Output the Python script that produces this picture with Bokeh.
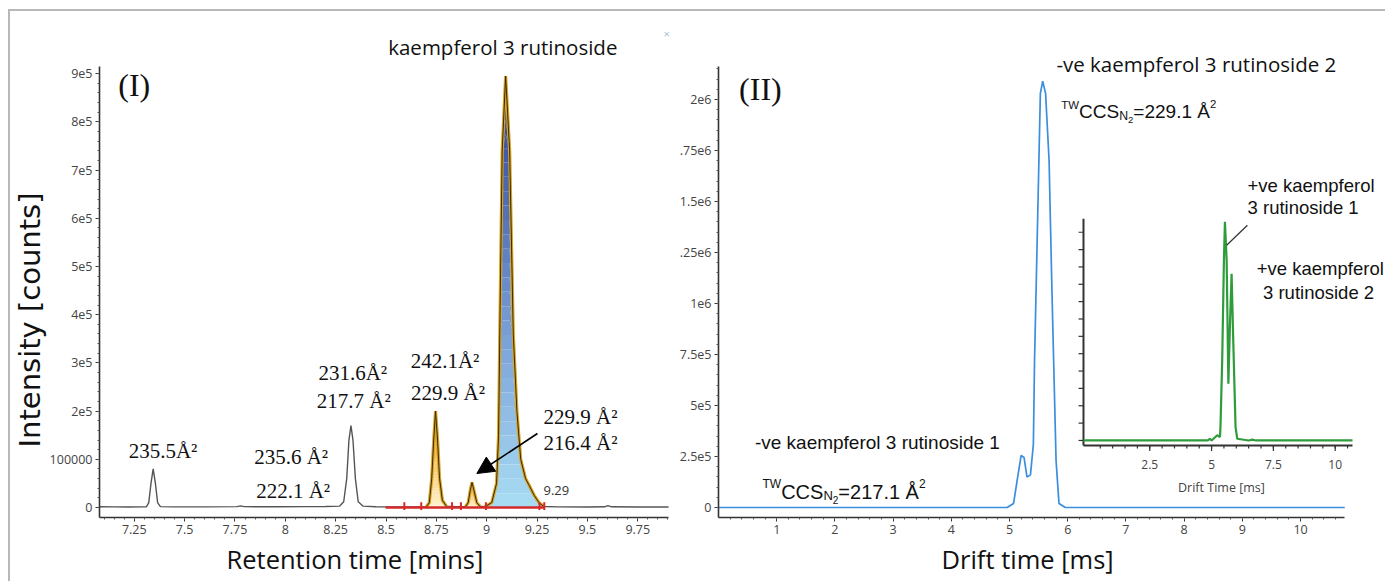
import numpy as np
from bokeh.plotting import figure
from bokeh.layouts import row
from bokeh.models import Range1d, FixedTicker, Label, Arrow, NormalHead, Title
from bokeh.core.properties import value
from bokeh.embed import file_html
from bokeh.resources import INLINE

# ---------------- data: panel I (chromatogram) ----------------
rt_time = [7.077, 7.15, 7.22, 7.29, 7.31, 7.322, 7.333, 7.344, 7.355, 7.366, 7.38, 7.45, 7.6,
           7.76, 7.778, 7.795, 7.95, 8.1, 8.2, 8.27, 8.29, 8.305, 8.316, 8.326, 8.336, 8.348,
           8.362, 8.385, 8.45, 8.6, 8.70, 8.715, 8.727, 8.737, 8.746, 8.756, 8.766, 8.78, 8.80,
           8.85, 8.895, 8.908, 8.918, 8.927, 8.937, 8.951, 8.967, 8.99, 9.025, 9.049, 9.059,
           9.065, 9.077, 9.094, 9.114, 9.132, 9.15, 9.169, 9.193, 9.212, 9.236, 9.26, 9.284,
           9.35, 9.5, 9.585, 9.602, 9.62, 9.75, 9.903]
rt_intensity = [1500, 1300, 1200, 1300, 1500, 10000, 50000, 80000, 50000, 10000, 1800, 1300, 1400,
                1800, 3500, 1800, 1600, 1800, 2200, 3000, 12000, 60000, 140000, 170000, 140000, 60000,
                12000, 3000, 1500, 1200, 1500, 10000, 60000, 140000, 200000, 140000, 60000, 15000, 3000,
                1500, 2000, 10000, 35000, 52000, 35000, 10000, 2500, 1500, 10000, 50000, 150000,
                360000, 740000, 895000, 740000, 360000, 200000, 100000, 60000, 45000, 25000, 10000, 2000,
                1300, 1200, 1500, 4000, 1500, 1200, 1200]
fill_start = [8.70, 8.895, 8.99]
fill_end = [8.80, 8.967, 9.284]
fill_kind = ["orange", "orange", "blue"]
integration_start, integration_end = 8.498, 9.286
integration_marks = [8.591, 8.675, 8.828, 8.872, 8.996, 9.262, 9.286]
left_xticks = [7.25, 7.5, 7.75, 8, 8.25, 8.5, 8.75, 9, 9.25, 9.5, 9.75]
left_xtick_labels = ["7.25", "7.5", "7.75", "8", "8.25", "8.5", "8.75", "9", "9.25", "9.5", "9.75"]
left_yticks = [0, 1e5, 2e5, 3e5, 4e5, 5e5, 6e5, 7e5, 8e5, 9e5]
left_ytick_labels = ["0", "100000", "2e5", "3e5", "4e5", "5e5", "6e5", "7e5", "8e5", "9e5"]
ccs_text = ["235.5Å²", "235.6 Å²", "222.1 Å²", "231.6Å²", "217.7 Å²", "242.1Å²", "229.9 Å²",
            "229.9 Å²", "216.4 Å²"]
ccs_x = [7.393, 8.029, 8.039, 8.335, 8.34, 8.793, 8.808, 9.282, 9.282]
ccs_y = [1.18e5, 1.04e5, 0.35e5, 2.8e5, 2.22e5, 3.05e5, 2.37e5, 1.87e5, 1.33e5]
ccs_align = ["center", "center", "center", "center", "center", "center", "center", "left", "left"]

# ---------------- data: panel II (drift time) ----------------
dt_time = [0.0, 4.96, 5.07, 5.13, 5.20, 5.25, 5.30, 5.36, 5.41, 5.43, 5.48, 5.53, 5.57, 5.62,
           5.68, 5.73, 5.80, 5.85, 5.96, 10.76]
dt_intensity = [0, 0, 0.02e6, 0.13e6, 0.255e6, 0.245e6, 0.15e6, 0.16e6, 0.31e6, 0.72e6, 1.37e6,
                2.03e6, 2.09e6, 2.03e6, 1.70e6, 1.05e6, 0.23e6, 0.02e6, 0, 0]
right_xticks = [1, 2, 3, 4, 5, 6, 7, 8, 9, 10]
right_xtick_labels = ["1", "2", "3", "4", "5", "6", "7", "8", "9", "10"]
right_yticks = [0, 2.5e5, 5e5, 7.5e5, 1e6, 1.25e6, 1.5e6, 1.75e6, 2e6]
right_ytick_labels = ["0", "2.5e5", "5e5", "7.5e5", "1e6", ".25e6", "1.5e6", ".75e6", "2e6"]

# inset (+ve mode)
pos_time = [-0.18, 4.85, 4.93, 5.0, 5.23, 5.34, 5.36, 5.43, 5.50, 5.54, 5.61, 5.68, 5.74, 5.81,
            5.88, 5.97, 6.04, 6.5, 6.65, 6.8, 10.7]
pos_intensity = [0, 0, 1000, 0, 3000, 2000, 7700, 46000, 104000, 126000, 104000, 32700, 65000,
                 96000, 56000, 7700, 1000, 0, 500, 0, 0]
inset_xticks = [2.5, 5, 7.5, 10]
inset_xtick_labels = ["2.5", "5", "7.5", "10"]

TICK_FONT = "Open Sans"
SANS = "Open Sans"
ARIAL = "Liberation Sans"
SERIF = "Liberation Serif"


def style_axes(p):
    for ax in (p.xaxis[0], p.yaxis[0]):
        ax.axis_line_color = "#333333"
        ax.axis_line_width = 1.6
        ax.major_tick_line_color = "#333333"
        ax.minor_tick_line_color = "#555555"
        ax.major_tick_out = 4
        ax.major_tick_in = 0
        ax.minor_tick_out = 2
        ax.minor_tick_in = 0
        ax.major_label_text_font = TICK_FONT
        ax.major_label_text_font_size = "12.5px"
        ax.major_label_text_color = "#444444"
        ax.major_label_standoff = 3
    p.grid.visible = False
    p.outline_line_color = None
    p.background_fill_color = "white"
    p.border_fill_color = "white"


def lerp_color(stops, f):
    for (f0, c0), (f1, c1) in zip(stops[:-1], stops[1:]):
        if f <= f1:
            t = (f - f0) / (f1 - f0) if f1 > f0 else 0
            a = [int(c0[i:i + 2], 16) for i in (1, 3, 5)]
            b = [int(c1[i:i + 2], 16) for i in (1, 3, 5)]
            return "#%02x%02x%02x" % tuple(int(round(a[k] + (b[k] - a[k]) * t)) for k in range(3))
    return stops[-1][1]


GRAD = {
    "orange": [(0.0, "#fff4d2"), (0.5, "#f9c35e"), (1.0, "#e27a04")],
    "blue": [(0.0, "#a9ddf4"), (0.35, "#80a8db"), (1.0, "#2b3d94")],
}


def x_title(p, text, offset):
    p.add_layout(Title(text=text, align="left", offset=offset, text_font=SANS,
                       text_font_size="25.5px", text_font_style="normal", text_color="#111111",
                       standoff=6), "below")


# ---------------- panel I ----------------
p1 = figure(width=662, height=570, x_range=Range1d(7.0774, 9.9226), y_range=Range1d(-20700, 1.0e6),
            output_backend="svg", toolbar_location=None)
p1.min_border_left = 85
p1.min_border_right = 0
p1.min_border_top = 14
p1.min_border_bottom = 64
style_axes(p1)
p1.xaxis.bounds = (7.0774, 9.903)
p1.yaxis.bounds = (-20700, 915000)
p1.xaxis.ticker = FixedTicker(ticks=left_xticks, minor_ticks=list(np.arange(7.1, 9.91, 0.05)))
p1.xaxis.major_label_overrides = dict(zip(left_xticks, left_xtick_labels))
p1.yaxis.ticker = FixedTicker(ticks=left_yticks, minor_ticks=list(np.arange(0, 915000, 20000)))
p1.yaxis.major_label_overrides = dict(zip(left_yticks, left_ytick_labels))
p1.add_layout(Title(text="Intensity [counts]", align="left", offset=70, text_font="DejaVu Sans",
                    text_font_size="29px", text_font_style="normal", text_color="#111111",
                    standoff=0), "left")
x_title(p1, "Retention time [mins]", 127)

t = np.array(rt_time)
y = np.array(rt_intensity, dtype=float)
for s, e, kind in zip(fill_start, fill_end, fill_kind):
    m = (t >= s) & (t <= e)
    ts, ys = t[m], y[m]
    top = ys.max()
    nb = 30
    for k in range(nb):
        lo, hi = top * k / nb, top * (k + 1) / nb
        c = lerp_color(GRAD[kind], (k + 0.5) / nb)
        p1.varea(x=ts, y1=np.minimum(ys, lo), y2=np.minimum(ys, hi), fill_color=c, fill_alpha=1.0)

p1.line(rt_time, rt_intensity, line_color="#555555", line_width=1.4)
for s, e in zip(fill_start, fill_end):
    m = (t >= s) & (t <= e)
    p1.line(t[m], y[m], line_color="#d8a524", line_width=3.2)
    p1.line(t[m], y[m], line_color="#3a2a0a", line_width=1.0)

# integration baseline
p1.segment(x0=[integration_start], y0=[0], x1=[integration_end], y1=[0], line_color="#d42a2a", line_width=2.5)
p1.segment(x0=integration_marks, y0=[-5000] * len(integration_marks), x1=integration_marks,
           y1=[11000] * len(integration_marks), line_color="#d42a2a", line_width=2)

for txt, xx, yy, al in zip(ccs_text, ccs_x, ccs_y, ccs_align):
    p1.add_layout(Label(x=xx, y=yy, text=txt, text_font=SERIF, text_font_size="21px",
                        text_align=al, text_baseline="middle", text_color="#111111"))
p1.add_layout(Label(x=9.282, y=0.35e5, text="9.29", text_font=SANS, text_font_size="13px",
                    text_align="left", text_baseline="middle", text_color="#333333"))
p1.add_layout(Arrow(x_start=9.252, y_start=1.535e5, x_end=8.951, y_end=0.705e5, line_width=1.6,
                    line_color="black",
                    end=NormalHead(size=17, fill_color="black", line_color="black")))
p1.add_layout(Label(x=7.25, y=8.76e5, text="(I)", text_font=SERIF, text_font_size="32px",
                    text_align="center", text_baseline="middle", text_color="#111111"))
p1.add_layout(Label(x=9.08, y=9.56e5, text="kaempferol 3 rutinoside", text_font=SANS,
                    text_font_size="20.5px", text_align="center", text_baseline="middle",
                    text_color="#111111"))
p1.add_layout(Label(x=9.893, y=9.83e5, text="×", text_font=SANS, text_font_size="11px",
                    text_align="center", text_baseline="middle", text_color="#a9bfe0"))

# ---------------- panel II ----------------
p2 = figure(width=713, height=570, x_range=Range1d(0, 11.46), y_range=Range1d(-0.049e6, 2.363e6),
            output_backend="svg", toolbar_location=None)
p2.min_border_left = 46
p2.min_border_right = 0
p2.min_border_top = 14
p2.min_border_bottom = 64
style_axes(p2)
p2.xaxis.bounds = (0, 10.76)
p2.yaxis.bounds = (-0.049e6, 2.16e6)
p2.xaxis.ticker = FixedTicker(ticks=right_xticks, minor_ticks=list(np.arange(0.2, 10.76, 0.2)))
p2.xaxis.major_label_overrides = dict(zip(right_xticks, right_xtick_labels))
p2.yaxis.ticker = FixedTicker(ticks=right_yticks, minor_ticks=list(np.arange(0, 2.16e6, 5e4)))
p2.yaxis.major_label_overrides = dict(zip(right_yticks, right_ytick_labels))
x_title(p2, "Drift time [ms]", 223)

p2.line(dt_time, dt_intensity, line_color="#3a8ede", line_width=1.7)

# inset drawn through a sub-coordinate mapping
ix0, ix1, iy0, iy1 = -0.18, 10.7, -2900, 127700
inset = p2.subplot(x_source=Range1d(ix0, ix1), y_source=Range1d(iy0, iy1),
                   x_target=Range1d(6.271, 10.893), y_target=Range1d(0.304e6, 1.415e6))
inset.segment(x0=[ix0, ix0], y0=[iy0, iy0], x1=[ix1, ix0], y1=[iy0, iy1], line_color="#333333",
              line_width=2)
ytk = list(np.arange(0, 125000, 10000))
inset.segment(x0=[ix0] * len(ytk), y0=ytk, x1=[ix0 - 0.2] * len(ytk), y1=ytk, line_color="#333333",
              line_width=1.2)
xmin = list(np.arange(0.5, 10.6, 0.5))
inset.segment(x0=xmin, y0=[iy0] * len(xmin), x1=xmin, y1=[iy0 - 1700] * len(xmin), line_color="#333333",
              line_width=1.2)
inset.segment(x0=inset_xticks, y0=[iy0] * 4, x1=inset_xticks, y1=[iy0 - 3200] * 4, line_color="#333333",
              line_width=1.2)
inset.text(x=inset_xticks, y=[-13800] * 4, text=inset_xtick_labels, text_font=value(TICK_FONT),
           text_font_size="12px", text_align="center", text_baseline="middle", text_color="#444444")
inset.text(x=[5.4], y=[-27100], text=["Drift Time [ms]"], text_font=value(TICK_FONT),
           text_font_size="12.5px", text_align="center", text_baseline="middle", text_color="#444444")
inset.line(pos_time, pos_intensity, line_color="#2e9c3a", line_width=2.2)
inset.segment(x0=[5.61], y0=[112500], x1=[6.45], y1=[124000], line_color="#333333", line_width=1.2)

p2.add_layout(Label(x=9.09, y=1.578e6, text="+ve kaempferol", text_font=ARIAL, text_font_size="18.5px",
                    text_align="left", text_baseline="middle", text_color="#111111"))
p2.add_layout(Label(x=9.09, y=1.47e6, text="3 rutinoside 1", text_font=ARIAL, text_font_size="18.5px",
                    text_align="left", text_baseline="middle", text_color="#111111"))
p2.add_layout(Label(x=10.34, y=1.17e6, text="+ve kaempferol", text_font=ARIAL, text_font_size="18.5px",
                    text_align="center", text_baseline="middle", text_color="#111111"))
p2.add_layout(Label(x=10.31, y=1.054e6, text="3 rutinoside 2", text_font=ARIAL, text_font_size="18.5px",
                    text_align="center", text_baseline="middle", text_color="#111111"))

p2.add_layout(Label(x=0.72, y=2.052e6, text="(II)", text_font=SERIF, text_font_size="32px",
                    text_align="center", text_baseline="middle", text_color="#111111"))
p2.add_layout(Label(x=8.21, y=2.176e6, text="-ve kaempferol 3 rutinoside 2", text_font=SANS,
                    text_font_size="20.5px", text_align="center", text_baseline="middle",
                    text_color="#111111"))
p2.add_layout(Label(x=2.73, y=0.319e6, text="-ve kaempferol 3 rutinoside 1", text_font=ARIAL,
                    text_font_size="19px", text_align="center", text_baseline="middle",
                    text_color="#111111"))

# CCS value with super/subscripts, built from pieces
AW = {"T": .611, "W": .944, "C": .722, "S": .667, "N": .722, "2": .556, "=": .584, "1": .556,
      "7": .556, "9": .556, ".": .278, " ": .278, "Å": .667}


def ccs_label(p, x, y, val, base):
    pieces = [("TW", base * 0.6, base * 0.38), ("CCS", base, 0), ("N", base * 0.65, -base * 0.22),
              ("2", base * 0.5, -base * 0.42), ("=" + val + " Å", base, 0), ("2", base * 0.6, base * 0.4)]
    off = 0.0
    for txt, size, dy in pieces:
        p.add_layout(Label(x=x, y=y, x_offset=off, y_offset=dy, text=txt, text_font=ARIAL,
                           text_font_size="%.1fpx" % size, text_align="left",
                           text_baseline="alphabetic", text_color="#111111"))
        off += sum(AW.get(ch, .556) for ch in txt) * size


ccs_label(p2, 5.89, 1.94e6, "229.1", 19)
ccs_label(p2, 0.756, 0.078e6, "217.1", 20)

layout = row(p1, p2, margin=(9, 0, 0, 8),
             styles={"border-top": "2px solid #b8b8b8", "border-left": "2px solid #b8b8b8"})

open("out.html", "w").write(file_html(layout, INLINE))
